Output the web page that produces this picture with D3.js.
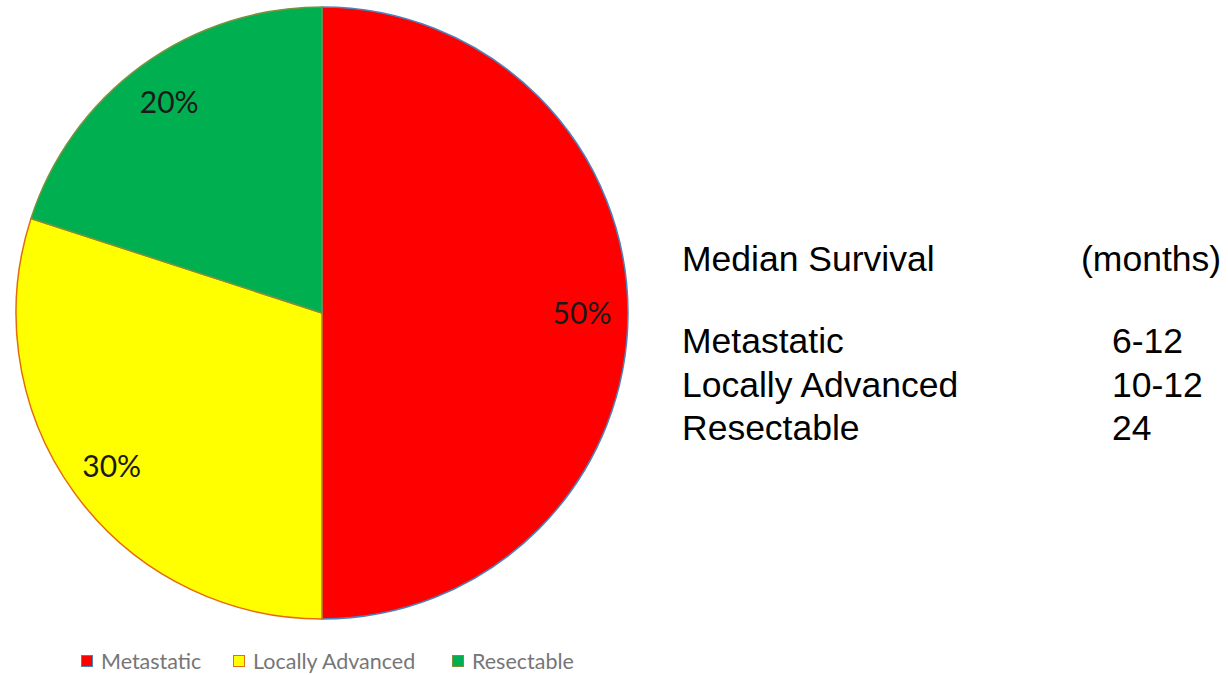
<!DOCTYPE html>
<html>
<head>
<meta charset="utf-8">
<script src="https://cdn.jsdelivr.net/npm/d3@7"></script>
<style>
  body { margin: 0; background: #fff; }
  svg { display: block; }
</style>
</head>
<body>
<svg id="chart" width="1228" height="675"></svg>
<script>
// pie data
const stages = ["Metastatic", "Locally Advanced", "Resectable"];
const shares = [50, 30, 20];
const fills = ["#ff0000", "#ffff00", "#00b050"];
const edges = ["#4f81bd", "#e46c0a", "#77933c"];

// survival table
const tableHeader = ["Median Survival", "(months)"];
const survivalStages = ["Metastatic", "Locally Advanced", "Resectable"];
const survivalMonths = ["6-12", "10-12", "24"];

const svg = d3.select("#chart");

const cx = 322, cy = 313, radius = 306;

const pieData = stages.map((s, i) => ({stage: s, value: shares[i]}));
const pie = d3.pie().sort(null).value(d => d.value);
const arcs = pie(pieData);

const arc = d3.arc().innerRadius(0).outerRadius(radius);
const labelArc = d3.arc().innerRadius(260).outerRadius(260);

const color = d3.scaleOrdinal().domain(stages).range(fills);
const stroke = d3.scaleOrdinal().domain(stages).range(edges);

const g = svg.append("g")
    .attr("transform", "translate(" + cx + "," + cy + ")");

g.selectAll("path.slice")
  .data(arcs)
  .join("path")
    .attr("class", "slice")
    .attr("d", arc)
    .attr("fill", d => color(d.data.stage))
    .attr("stroke", d => stroke(d.data.stage))
    .attr("stroke-width", 1.5)
    .attr("stroke-linejoin", "round");

g.selectAll("text.pct")
  .data(arcs)
  .join("text")
    .attr("class", "pct")
    .attr("transform", d => "translate(" + labelArc.centroid(d) + ")")
    .attr("text-anchor", "middle")
    .attr("dy", "0.36em")
    .attr("font-family", "Lato, 'Open Sans', sans-serif")
    .attr("font-size", 30)
    .attr("fill", "#1a1a1a")
    .text(d => d.data.value + "%");

// legend
const legendX = [81, 233, 452];
const legend = svg.append("g");
stages.forEach((s, i) => {
  const item = legend.append("g").attr("transform", "translate(" + legendX[i] + ",655)");
  item.append("rect")
    .attr("x", 0.5).attr("y", 0.5)
    .attr("width", 11).attr("height", 11)
    .attr("fill", color(s))
    .attr("stroke", stroke(s))
    .attr("stroke-width", 1);
  item.append("text")
    .attr("x", 20)
    .attr("y", 14)
    .attr("font-family", "Lato, 'Open Sans', sans-serif")
    .attr("font-size", 21.5)
    .attr("fill", "#767676")
    .text(s);
});

// survival table
const tbl = svg.append("g")
    .attr("font-family", "'Liberation Sans', Arial, sans-serif")
    .attr("font-size", 35.5)
    .attr("fill", "#000");

tbl.append("text").attr("x", 682).attr("y", 271).text(tableHeader[0]);
tbl.append("text").attr("x", 1081).attr("y", 271).text(tableHeader[1]);

const rowY = d3.scalePoint().domain(survivalStages).range([353, 440]);

survivalStages.forEach((s, i) => {
  tbl.append("text").attr("x", 682).attr("y", rowY(s)).text(s);
  tbl.append("text").attr("x", 1112).attr("y", rowY(s)).text(survivalMonths[i]);
});
</script>
</body>
</html>
